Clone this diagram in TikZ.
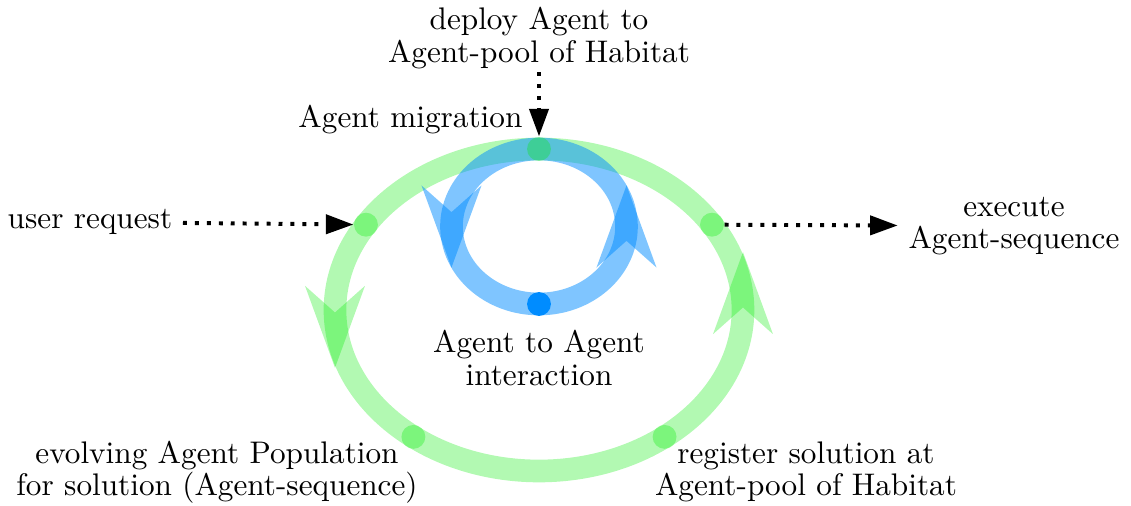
\documentclass[tikz,border=0pt]{standalone}
\usepackage{tikz}
\usetikzlibrary{arrows.meta,decorations.markings}
\definecolor{ringgreen}{RGB}{0,235,0}
\definecolor{ringblue}{RGB}{0,140,255}

\begin{document}
\begin{tikzpicture}[x=1.148cm,y=1.148cm,>={Triangle[length=9pt,width=6.2pt]},
    bigtip/.tip={Stealth[length=26.8pt,width=19.6pt,line width=0pt]},
    font=\fontsize{10.2}{10.6}\selectfont]
                \tikzstyle{ring} = [line width=7.4pt, opacity=0.3, postaction={decorate}]
                \tikzstyle{gdot} = [circle, fill=ringgreen, fill opacity=0.3, inner sep=0pt, minimum size=7.8pt]
                \tikzstyle{bdot} = [circle, fill=ringblue, inner sep=0pt, minimum size=7.8pt]
                \tikzstyle{flow} = [->, line width=1.3pt, dash pattern=on 1.3pt off 2.6pt]

                \useasboundingbox (-5.39,-1.96) rectangle (5.92,3.10);

                % Outer cycle (green)
                \draw[ring, ringgreen, decoration={markings,
                      mark=at position 0.25 with {\pgftransformxshift{18.9pt}\arrow{bigtip}},
                      mark=at position 0.75 with {\pgftransformxshift{18.9pt}\arrow{bigtip}}}]
                    (0,0) ++(-90:2.04 and 1.61) arc[start angle=-90, end angle=270, x radius=2.04, y radius=1.61];

                % Inner cycle (blue)
                \draw[ring, ringblue, opacity=0.5, decoration={markings,
                      mark=at position 0.25 with {\pgftransformxshift{13.4pt}\arrow{bigtip}},
                      mark=at position 0.75 with {\pgftransformxshift{13.4pt}\arrow{bigtip}}}]
                    (0,0.835) ++(-90:0.875 and 0.775) arc[start angle=-90, end angle=270, x radius=0.875, y radius=0.775];

                % Points on the cycles
                \node[gdot] (mig) at (90:2.04 and 1.61) {};
                \node[gdot] (req) at (148:2.04 and 1.61) {};
                \node[gdot] (exe) at (32:2.04 and 1.61) {};
                \node[gdot] (evo) at (232:2.04 and 1.61) {};
                \node[gdot] (reg) at (308:2.04 and 1.61) {};
                \node[bdot] (inter) at (0,0.06) {};

                % Labels
                \node[align=center, inner sep=1pt] (deploy) at (0,2.72) {deploy Agent to\\Agent-pool of Habitat};
                \node[anchor=east, inner sep=0pt] (miglbl) at (-0.16,1.90) {Agent migration};
                \node[anchor=east] (user) at (-3.56,0.88) {user request};
                \node[align=center] (exec) at (4.75,0.84) {execute\\Agent-sequence};
                \node[align=center] (interlbl) at (0,-0.48) {Agent to Agent\\interaction};
                \node[align=center] (evolbl) at (-3.22,-1.62) {evolving Agent Population\\for solution (Agent-sequence)};
                \node[align=center] (reglbl) at (2.67,-1.62) {register solution at\\Agent-pool of Habitat};

                % Dotted arrows
                \draw[flow] (deploy) -- (mig);
                \draw[flow] (user) -- (req);
                \draw[flow] (exe) -- (exec);
            \end{tikzpicture}
\end{document}
